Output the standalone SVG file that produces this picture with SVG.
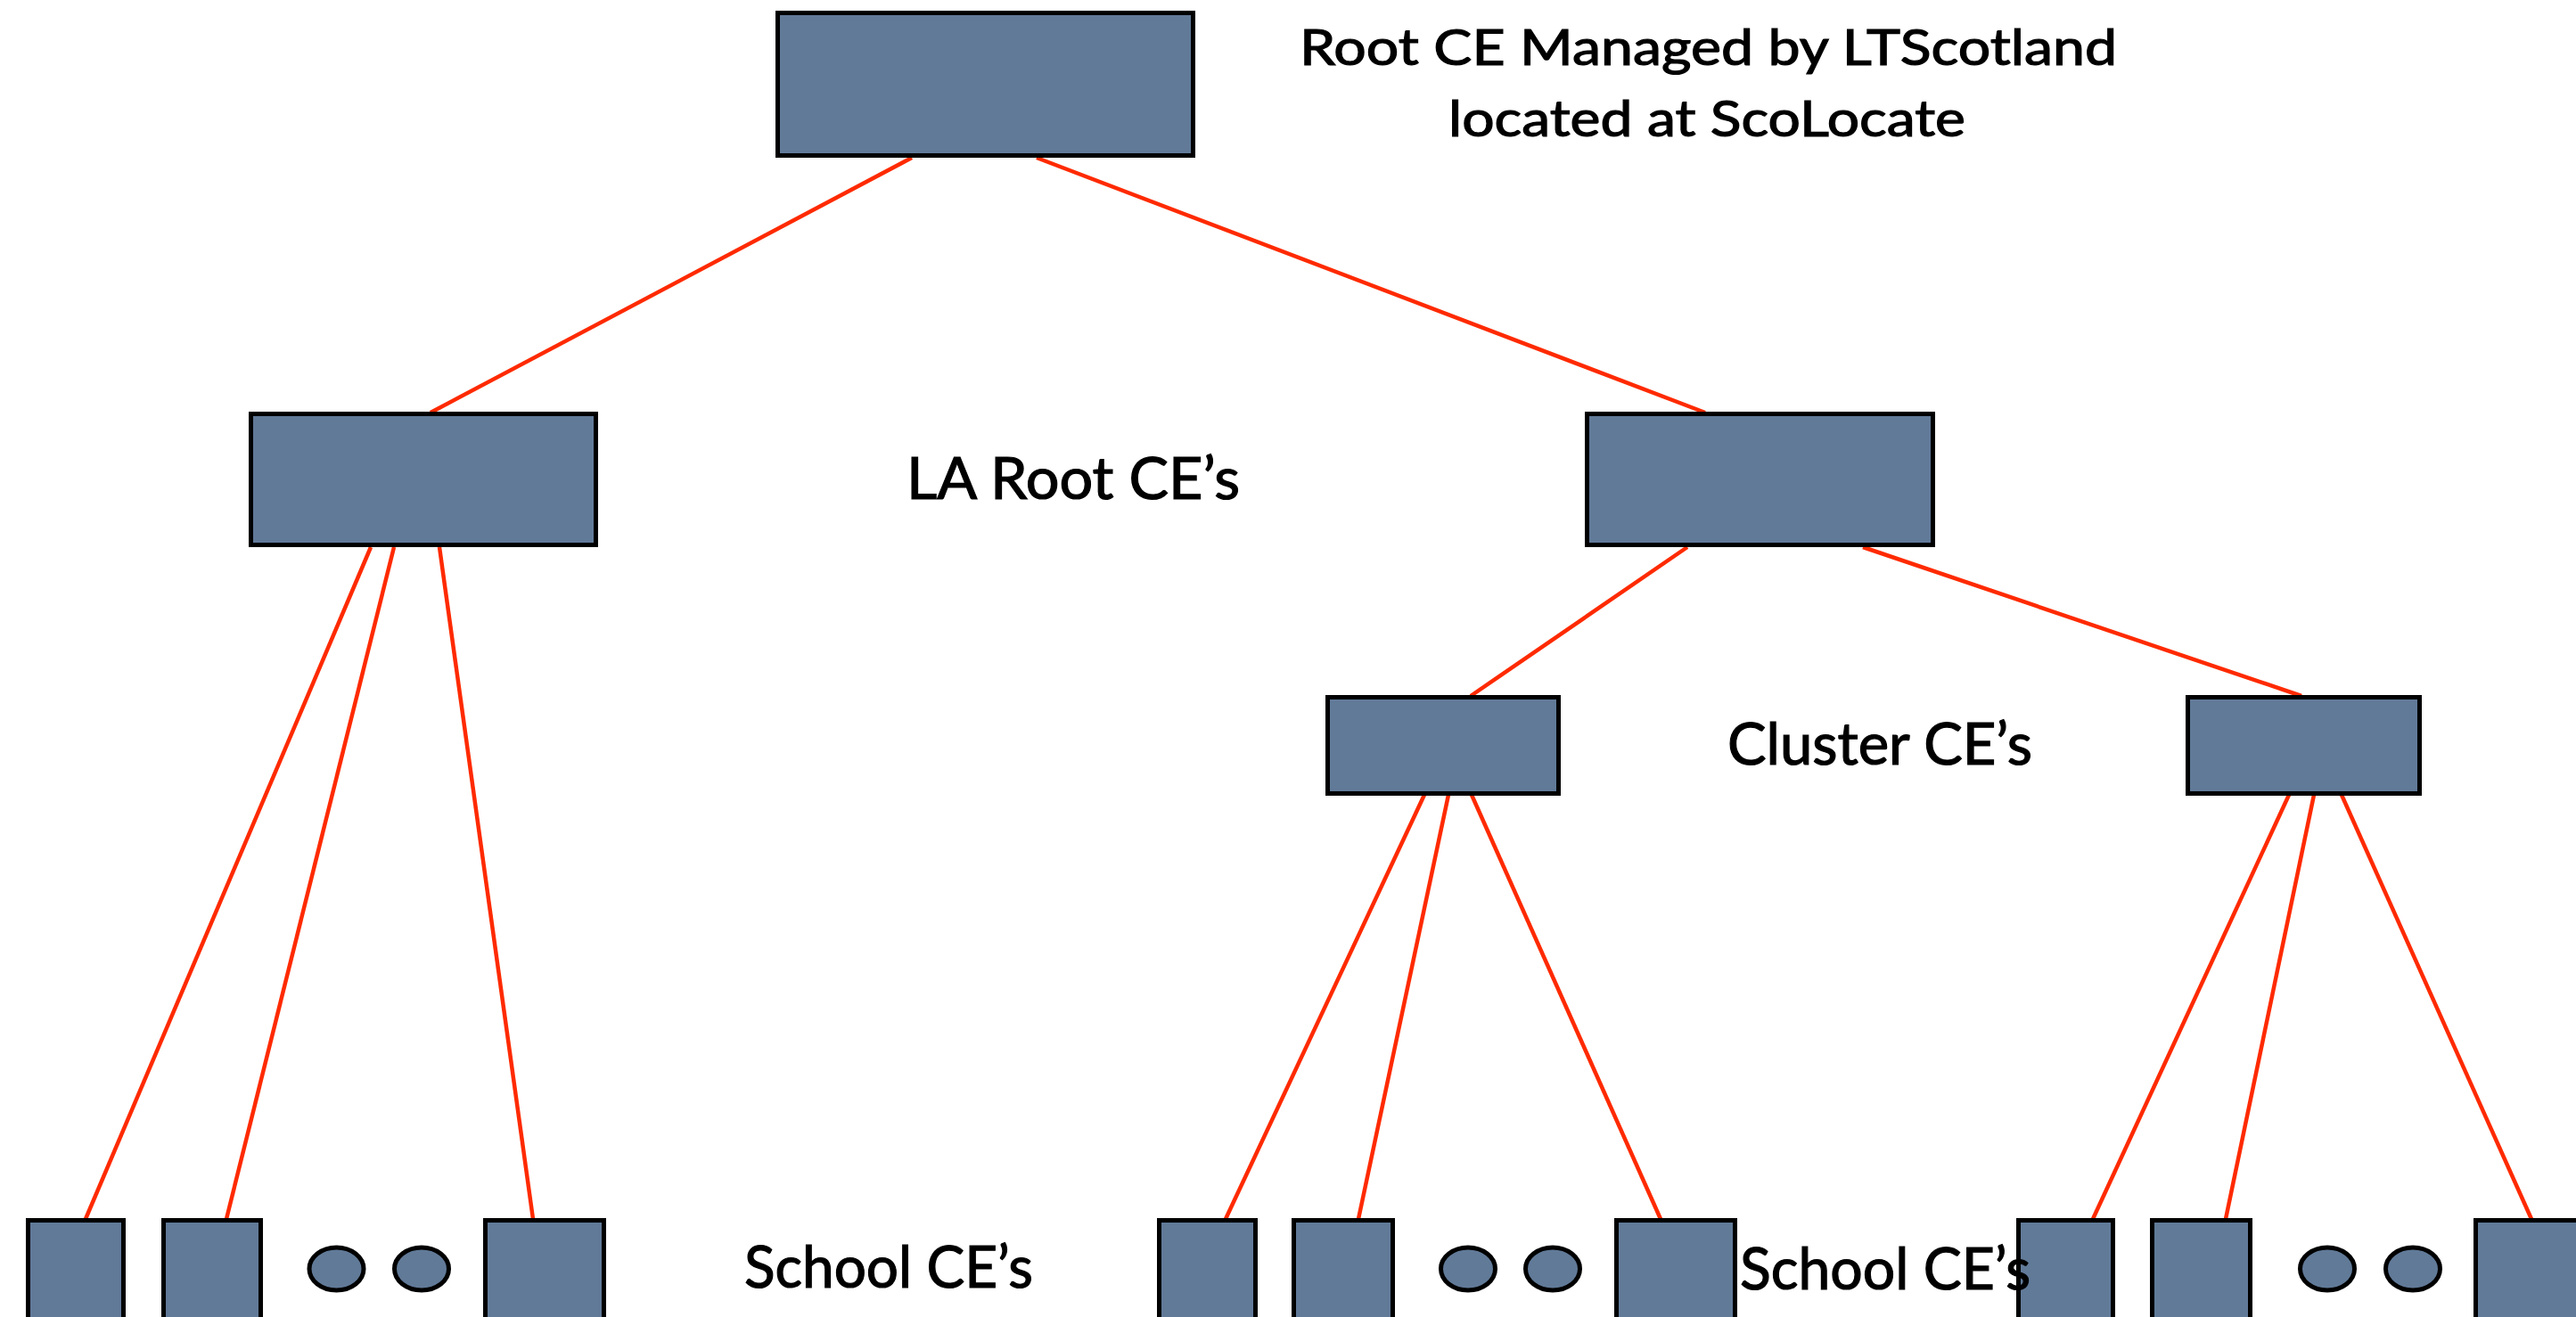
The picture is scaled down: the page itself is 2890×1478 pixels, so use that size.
<svg xmlns="http://www.w3.org/2000/svg" width="2890" height="1478" viewBox="0 0 2890 1478">
<style>
.node{fill:#617a98;stroke:#000;stroke-width:5}
.conn line{stroke:#ff2a00;stroke-width:4.5;fill:none}
.lbl{font-family:Lato,"Open Sans","Liberation Sans",sans-serif;fill:#000;stroke:#000;stroke-width:1.2}
.l1{font-size:57px}
.l2{font-size:65px}
</style>
<rect width="2890" height="1478" fill="#fff"/>
<g id="connectors" class="conn">
<line x1="1023" y1="177" x2="483" y2="463"/>
<line x1="1163" y1="177" x2="1913" y2="463"/>
<line x1="416" y1="614" x2="96" y2="1368"/>
<line x1="442" y1="614" x2="254" y2="1368"/>
<line x1="493" y1="614" x2="598" y2="1368"/>
<line x1="1893" y1="614" x2="1650" y2="781"/>
<line x1="2090" y1="614" x2="2582" y2="781"/>
<line x1="1598" y1="892" x2="1375" y2="1368"/>
<line x1="1625" y1="892" x2="1524" y2="1368"/>
<line x1="1651" y1="892" x2="1863" y2="1368"/>
<line x1="2568" y1="892" x2="2348" y2="1368"/>
<line x1="2596" y1="892" x2="2497" y2="1368"/>
<line x1="2627" y1="892" x2="2840" y2="1368"/>
</g>
<g id="root"><rect class="node" x="872.5" y="14.5" width="466" height="160"/></g>
<g id="la-left"><rect class="node" x="281.5" y="464.5" width="387" height="147"/></g>
<g id="la-right"><rect class="node" x="1780.5" y="464.5" width="388" height="147"/></g>
<g id="cluster-left"><rect class="node" x="1489.5" y="782.5" width="259" height="108"/></g>
<g id="cluster-right"><rect class="node" x="2454.5" y="782.5" width="260" height="108"/></g>
<g id="school-1-1"><rect class="node" x="31.5" y="1369.5" width="107" height="200"/></g>
<g id="school-1-2"><rect class="node" x="183.5" y="1369.5" width="109" height="200"/></g>
<g id="school-1-dot1"><ellipse class="node" cx="377.5" cy="1424" rx="30.5" ry="24"/></g>
<g id="school-1-dot2"><ellipse class="node" cx="473" cy="1424" rx="30.5" ry="24"/></g>
<g id="school-1-3"><rect class="node" x="544.5" y="1369.5" width="133" height="200"/></g>
<g id="school-2-1"><rect class="node" x="1300.5" y="1369.5" width="108" height="200"/></g>
<g id="school-2-2"><rect class="node" x="1451.5" y="1369.5" width="111" height="200"/></g>
<g id="school-2-dot1"><ellipse class="node" cx="1647" cy="1424" rx="30.5" ry="24"/></g>
<g id="school-2-dot2"><ellipse class="node" cx="1742" cy="1424" rx="30.5" ry="24"/></g>
<g id="school-2-3"><rect class="node" x="1813.5" y="1369.5" width="133" height="200"/></g>
<g id="school-3-1"><rect class="node" x="2264.5" y="1369.5" width="106" height="200"/></g>
<g id="school-3-2"><rect class="node" x="2414.5" y="1369.5" width="110" height="200"/></g>
<g id="school-3-dot1"><ellipse class="node" cx="2611" cy="1424" rx="30.5" ry="24"/></g>
<g id="school-3-dot2"><ellipse class="node" cx="2707" cy="1424" rx="30.5" ry="24"/></g>
<g id="school-3-3"><rect class="node" x="2777.5" y="1369.5" width="160" height="200"/></g>
<g id="labels">
<text class="lbl l1" x="1458" y="73" textLength="917" lengthAdjust="spacingAndGlyphs">Root CE Managed by LTScotland</text>
<text class="lbl l1" x="1625" y="153" textLength="580" lengthAdjust="spacingAndGlyphs">located at ScoLocate</text>
<text class="lbl l2" x="1017" y="560" textLength="374" lengthAdjust="spacingAndGlyphs">LA Root CE’s</text>
<text class="lbl l2" x="1938" y="858" textLength="342" lengthAdjust="spacingAndGlyphs">Cluster CE’s</text>
<text class="lbl l2" x="835" y="1445" textLength="324" lengthAdjust="spacingAndGlyphs">School CE’s</text>
<text class="lbl l2" x="1952" y="1447" textLength="326" lengthAdjust="spacingAndGlyphs">School CE’s</text>
</g>
</svg>
